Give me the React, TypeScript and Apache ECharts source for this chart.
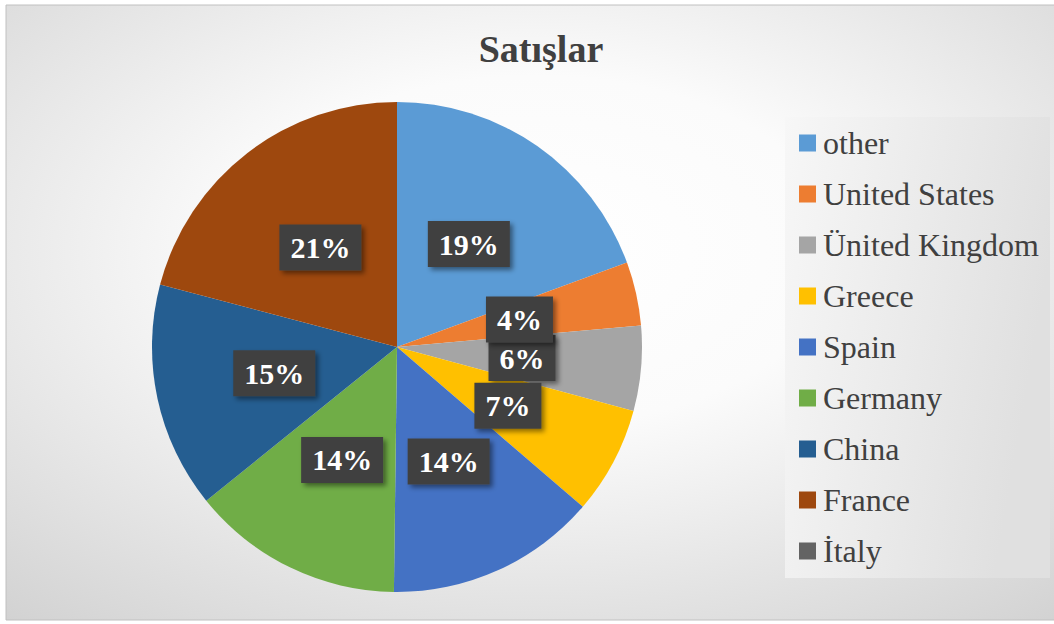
import React, { useEffect, useRef } from "react";
import * as echarts from "echarts";

const titleText = "Satışlar";
const categories = ["other", "United States", "Ünited Kingdom", "Greece", "Spain", "Germany", "China", "France", "İtaly"];
const values = [19.4, 4.2, 5.6, 7.1, 13.9, 14.0, 14.9, 20.9, 0];
const colors = ["#5b9bd5", "#ed7d31", "#a5a5a5", "#ffc000", "#4472c4", "#70ad47", "#255e91", "#9e480e", "#636363"];
// category whose label goes in a second, transparent layer so it is not hidden by its neighbour
const overlayLabel = "United States";

export default function App() {
  const ref = useRef<HTMLDivElement>(null);
  useEffect(() => {
    document.body.style.margin = "0";
    const chart = echarts.init(ref.current!, null, { renderer: "svg" });
    const labelStyle = {
      show: true,
      position: "inside",
      formatter: (p: any) => Math.round(p.percent) + "%",
      fontFamily: "Liberation Serif",
      fontWeight: "bold",
      fontSize: 30,
      lineHeight: 30,
      color: "#ffffff",
      backgroundColor: "#404040",
      padding: [8, 11],
      shadowColor: "rgba(0,0,0,0.45)",
      shadowBlur: 5,
      shadowOffsetX: 3,
      shadowOffsetY: 3,
    };
    const base = categories.map((name, i) => ({
      name,
      value: values[i],
      itemStyle: { color: colors[i] },
      label: values[i] === 0 || name === overlayLabel ? { show: false } : undefined,
    }));
    const overlay = categories.map((name, i) => ({
      name,
      value: values[i],
      itemStyle: { color: "rgba(0,0,0,0)" },
      label: name === overlayLabel ? undefined : { show: false },
    }));
    const pieCommon = {
      type: "pie",
      center: [397, 347],
      radius: [0, 245],
      startAngle: 90,
      clockwise: true,
      avoidLabelOverlap: false,
      labelLayout: { hideOverlap: false },
      itemStyle: { borderWidth: 0 },
      emphasis: { disabled: true },
      labelLine: { show: false },
      label: labelStyle,
    };
    chart.setOption({
      animation: false,
      color: colors,
      title: {
        text: titleText,
        left: 536,
        top: 25,
        textAlign: "center",
        textStyle: {
          fontFamily: "Liberation Serif",
          fontWeight: "bold",
          fontSize: 38,
          color: "#404040",
        },
      },
      graphic: [
        {
          type: "rect",
          z: -10,
          shape: { x: 6, y: 5, width: 1060, height: 615 },
          style: {
            fill: {
              type: "radial",
              x: 0.5,
              y: 0.4,
              r: 0.95,
              colorStops: [
                { offset: 0, color: "#ffffff" },
                { offset: 0.3, color: "#fbfbfb" },
                { offset: 1, color: "#c4c4c4" },
              ],
            },
            stroke: "#c0c0c0",
            lineWidth: 1,
          },
        },
        {
          type: "rect",
          z: -9,
          shape: { x: 785, y: 117, width: 265, height: 461 },
          style: {
            fill: {
              type: "linear",
              x: 0,
              y: 0,
              x2: 1,
              y2: 0.3,
              colorStops: [
                { offset: 0, color: "#f7f7f7" },
                { offset: 1, color: "#e0e0e0" },
              ],
            },
          },
        },
      ],
      legend: {
        orient: "vertical",
        left: 799,
        top: 127,
        padding: 0,
        itemWidth: 17,
        itemHeight: 17,
        itemGap: 19,
        icon: "rect",
        data: categories,
        textStyle: {
          fontFamily: "Liberation Serif",
          fontSize: 32,
          lineHeight: 32,
          color: "#404040",
          padding: [0, 0, 0, 2],
        },
      },
      series: [
        { ...pieCommon, name: "Satışlar", data: base },
        { ...pieCommon, name: "labels", silent: true, data: overlay, z: 3 },
      ],
    });
    return () => chart.dispose();
  }, []);
  return <div ref={ref} style={{ width: 1054, height: 624 }} />;
}
